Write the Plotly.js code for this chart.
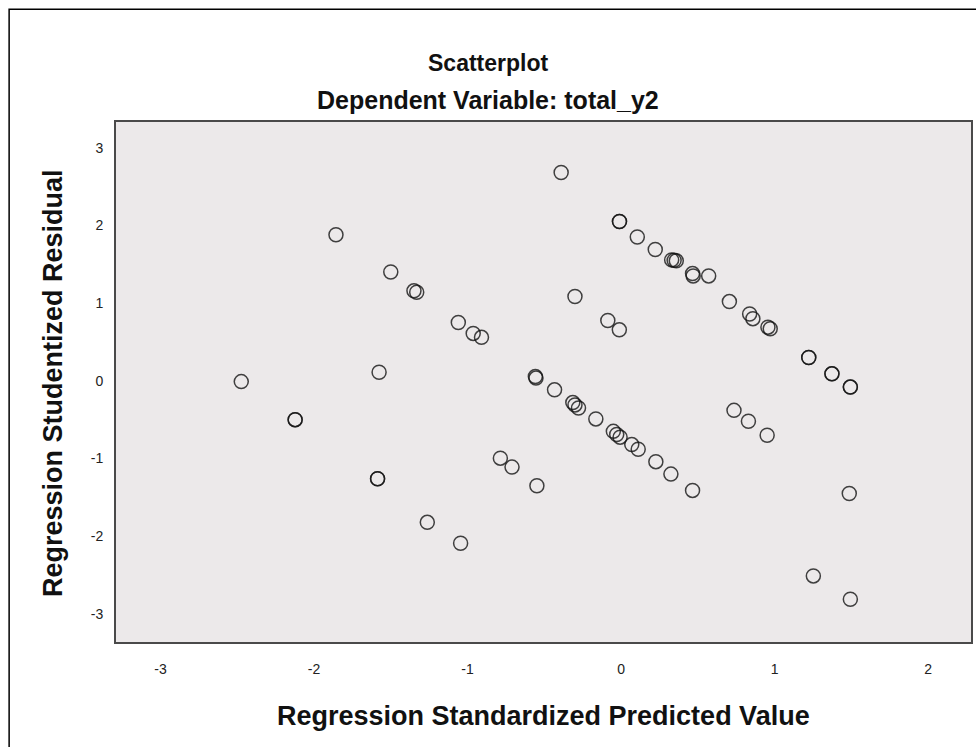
<!DOCTYPE html>
<html>
<head>
<meta charset="utf-8">
<script src="https://cdn.plot.ly/plotly-3.0.1.min.js"></script>
<style>html,body{margin:0;padding:0;background:#fff;}#chart{width:976px;height:747px;}</style>
</head>
<body>
<div id="chart"></div>
<script>
// Regression Standardized Predicted Value (x) vs Regression Studentized Residual (y)
var predicted = [
  -0.39, -0.01, -0.01, 0.106, 0.223, 0.33, 0.346, 0.36, 0.466, 0.47, 0.571, 0.706, 0.838, 0.859, 0.957, 0.972,
  1.223, 1.223, 1.374, 1.374, 1.494, 1.494,
  -0.30, -0.086, -0.011,
  -0.558, -0.554, -0.433, -0.314, -0.30, -0.277, -0.164, -0.05, -0.028, -0.006, 0.07, 0.112, 0.227, 0.325, 0.466,
  0.736, 0.83, 0.952, 1.487, 1.253, 1.494,
  -1.857, -1.50, -1.349, -1.331, -1.06, -0.963, -0.909,
  -1.576, -2.474, -2.123, -2.123, -1.586, -1.586, -0.786, -0.71, -0.548, -1.262, -1.045
];
var residual = [
  2.68, 2.05, 2.05, 1.85, 1.69, 1.556, 1.55, 1.545, 1.38, 1.35, 1.35, 1.02, 0.86, 0.80, 0.69, 0.67,
  0.30, 0.30, 0.09, 0.09, -0.08, -0.08,
  1.085, 0.776, 0.656,
  0.055, 0.035, -0.116, -0.28, -0.31, -0.35, -0.49, -0.65, -0.69, -0.725, -0.82, -0.88, -1.04, -1.20, -1.41,
  -0.38, -0.52, -0.70, -1.45, -2.51, -2.81,
  1.88, 1.40, 1.158, 1.14, 0.75, 0.61, 0.56,
  0.11, -0.01, -0.50, -0.50, -1.26, -1.26, -0.995, -1.11, -1.35, -1.82, -2.09
];
var xTicks = [-3, -2, -1, 0, 1, 2];
var yTicks = [-3, -2, -1, 0, 1, 2, 3];
var titleText = "Scatterplot";
var subtitleText = "Dependent Variable: total_y2";
var xTitle = "Regression Standardized Predicted Value";
var yTitle = "Regression Studentized Residual";

var FONT = "Liberation Sans, Arial, sans-serif";

var trace = {
  x: predicted,
  y: residual,
  type: "scatter",
  mode: "markers",
  marker: {
    symbol: "circle-open",
    size: 14,
    color: "rgba(20,20,20,0.8)",
    line: {width: 1.5}
  },
  hoverinfo: "x+y"
};

var layout = {
  width: 976,
  height: 747,
  margin: {l: 116, r: 5, t: 122, b: 105},
  paper_bgcolor: "#ffffff",
  plot_bgcolor: "#ECE9EA",
  showlegend: false,
  xaxis: {
    range: [-3.29, 2.28],
    tickvals: xTicks,
    ticktext: xTicks.map(String),
    ticks: "outside",
    ticklen: 13,
    tickcolor: "rgba(0,0,0,0)",
    showgrid: false,
    zeroline: false,
    showline: true,
    mirror: true,
    linecolor: "#4a4a4a",
    linewidth: 2,
    tickfont: {family: FONT, size: 14, color: "#222"}
  },
  yaxis: {
    range: [-3.36, 3.33],
    tickvals: yTicks,
    ticktext: yTicks.map(String),
    ticks: "outside",
    ticklen: 8,
    tickcolor: "rgba(0,0,0,0)",
    showgrid: false,
    zeroline: false,
    showline: true,
    mirror: true,
    linecolor: "#4a4a4a",
    linewidth: 2,
    tickfont: {family: FONT, size: 14, color: "#222"}
  },
  annotations: [
    {text: "<b>" + titleText + "</b>", xref: "paper", yref: "paper", x: 0.435, y: 1.1135,
     xanchor: "center", yanchor: "middle", showarrow: false, font: {family: FONT, size: 23, color: "#111"}},
    {text: "<b>" + subtitleText + "</b>", xref: "paper", yref: "paper", x: 0.435, y: 1.0423,
     xanchor: "center", yanchor: "middle", showarrow: false, font: {family: FONT, size: 25, color: "#111"}},
    {text: "<b>" + xTitle + "</b>", xref: "paper", yref: "paper", x: 0.5, y: -0.1423,
     xanchor: "center", yanchor: "middle", showarrow: false, font: {family: FONT, size: 27, color: "#111"}},
    {text: "<b>" + yTitle + "</b>", xref: "paper", yref: "paper", x: -0.0737, y: 0.498, textangle: -90,
     xanchor: "center", yanchor: "middle", showarrow: false, font: {family: FONT, size: 27, color: "#111"}}
  ],
  shapes: [
    {type: "rect", xref: "paper", yref: "paper", x0: -0.125, x1: 1.02, y0: -0.22, y1: 1.217,
     line: {color: "#000", width: 1.5}, fillcolor: "rgba(0,0,0,0)", layer: "above"}
  ]
};

Plotly.newPlot("chart", [trace], layout, {displayModeBar: false, staticPlot: true});
</script>
</body>
</html>
